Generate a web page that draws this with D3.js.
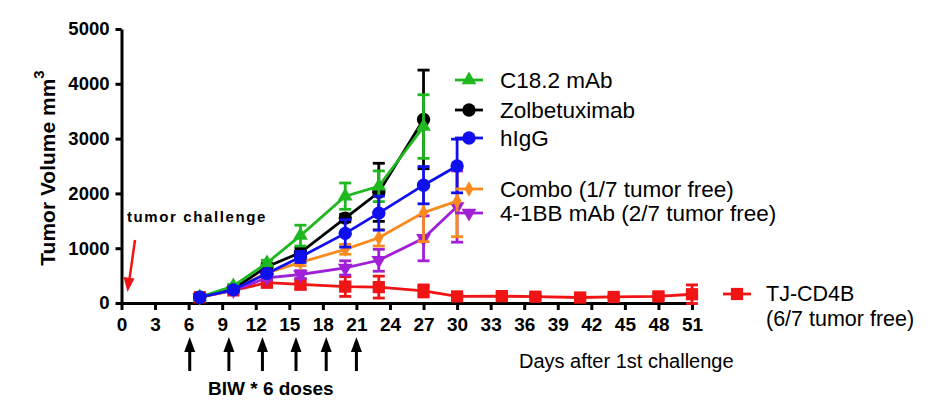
<!DOCTYPE html>
<html>
<head>
<meta charset="utf-8">
<script src="https://cdn.jsdelivr.net/npm/d3@7"></script>
<style>
  body { margin: 0; background: #fff; }
  svg { font-family: "Liberation Sans", Arial, sans-serif; }
</style>
</head>
<body>
<div id="chart"></div>
<script>
// days measured
var days = [7, 10, 13, 16, 20, 23, 27, 30];
var redDays = [7, 10, 13, 16, 20, 23, 27, 30, 34, 37, 41, 44, 48, 51];

var c18Mean = [110, 310, 730, 1230, 1950, 2130, 3220];
var c18Sem = [20, 30, 50, 190, 240, 280, 580];
var zolMean = [105, 260, 660, 920, 1550, 2020, 3350];
var zolSem = [20, 30, 60, 90, 70, 530, 900];
var higgMean = [105, 240, 540, 840, 1270, 1640, 2150, 2500];
var higgSem = [20, 30, 50, 100, 250, 310, 340, 490];
var comboMean = [105, 240, 550, 740, 980, 1190, 1650, 1860];
var comboSem = [20, 30, 40, 60, 90, 150, 530, 650];
var bbMean = [105, 230, 460, 520, 640, 780, 1180, 1760];
var bbSem = [20, 30, 40, 70, 130, 200, 410, 650];
var tjMean = [105, 230, 370, 340, 300, 290, 220, 120, 125, 115, 100, 110, 120, 160];
var tjSem = [20, 30, 40, 90, 180, 200, 110, 40, 50, 40, 30, 30, 50, 170];

var xTicks = d3.range(0, 52, 3);
var yTicks = [0, 1000, 2000, 3000, 4000, 5000];
var doseDays = [6.1, 9.6, 12.6, 15.6, 18.3, 21];

function build(dd, mean, sem) {
	return mean.map(function (m, i) { return { day: dd[i], mean: m, sem: sem[i] }; });
}

// draw order: red at the bottom, blue on top
var series = [
	{ name: "TJ-CD4B", color: "#f01414", shape: "square", pts: build(redDays, tjMean, tjSem) },
	{ name: "4-1BB mAb (2/7 tumor free)", color: "#a020d8", shape: "down", pts: build(days, bbMean, bbSem) },
	{ name: "Combo (1/7 tumor free)", color: "#f98b1e", shape: "diamond", pts: build(days, comboMean, comboSem) },
	{ name: "Zolbetuximab", color: "#000000", shape: "circle", pts: build(days, zolMean, zolSem) },
	{ name: "C18.2 mAb", color: "#1fb81f", shape: "triangle", pts: build(days, c18Mean, c18Sem) },
	{ name: "hIgG", color: "#1010ee", shape: "circle", pts: build(days, higgMean, higgSem) }
];

var width = 942, height = 412;
var svg = d3.select("#chart").append("svg")
	.attr("width", width)
	.attr("height", height);

var x = d3.scaleLinear().domain([0, 51]).range([121.5, 692]);
var y = d3.scaleLinear().domain([0, 5000]).range([303, 29]);

function symbolPath(shape) {
	if (shape == "square") return d3.symbol(d3.symbolSquare, 150)();
	if (shape == "triangle") return d3.symbol(d3.symbolTriangle, 95)();
	if (shape == "down") return d3.symbol(d3.symbolTriangle, 95)();
	if (shape == "diamond") return d3.symbol(d3.symbolDiamond, 70)();
	return d3.symbol(d3.symbolCircle, 140)();
}
function symbolTransform(shape, px, py) {
	return "translate(" + px + "," + py + ")" + (shape == "down" ? " rotate(180)" : "");
}

// y axis
var yAxis = d3.axisLeft(y).tickValues(yTicks).tickFormat(d3.format("d"))
	.tickSize(6).tickSizeOuter(0).tickPadding(6);
var gy = svg.append("g").attr("transform", "translate(121.5,0)").call(yAxis);
gy.select(".domain").attr("stroke-width", 3);
gy.selectAll(".tick line").attr("stroke-width", 3);
gy.selectAll("text").attr("font-size", 18.5).attr("font-weight", "bold").attr("fill", "#000")
	.style("font-family", "'Liberation Sans', Arial, sans-serif");

// x axis
var xAxis = d3.axisBottom(x).tickValues(xTicks).tickSize(7).tickSizeOuter(0).tickPadding(8);
var gx = svg.append("g").attr("transform", "translate(0,303)").call(xAxis);
gx.select(".domain").attr("stroke-width", 3);
gx.selectAll(".tick line").attr("stroke-width", 3);
gx.selectAll("text").attr("font-size", 19).attr("font-weight", "bold").attr("fill", "#000")
	.style("font-family", "'Liberation Sans', Arial, sans-serif");

// y label
var yl = svg.append("text")
	.attr("transform", "translate(55,168) rotate(-90)")
	.attr("text-anchor", "middle")
	.attr("font-size", 21).attr("font-weight", "bold");
yl.append("tspan").text("Tumor Volume mm");
yl.append("tspan").attr("font-size", 15).attr("dy", -11).text("3");

// series
var g = svg.append("g");
series.forEach(function (s) {
	var sg = g.append("g");
	var line = d3.line().x(function (d) { return x(d.day); }).y(function (d) { return y(d.mean); });
	sg.append("path").datum(s.pts)
		.attr("d", line).attr("fill", "none")
		.attr("stroke", s.color).attr("stroke-width", 2.8);

	var eb = sg.selectAll(".eb").data(s.pts).enter().append("g");
	eb.append("line")
		.attr("x1", function (d) { return x(d.day); })
		.attr("x2", function (d) { return x(d.day); })
		.attr("y1", function (d) { return y(d.mean - d.sem); })
		.attr("y2", function (d) { return y(d.mean + d.sem); })
		.attr("stroke", s.color).attr("stroke-width", 2.8);
	[-1, 1].forEach(function (k) {
		eb.append("line")
			.attr("x1", function (d) { return x(d.day) - 6; })
			.attr("x2", function (d) { return x(d.day) + 6; })
			.attr("y1", function (d) { return y(d.mean + k * d.sem); })
			.attr("y2", function (d) { return y(d.mean + k * d.sem); })
			.attr("stroke", s.color).attr("stroke-width", 2.8);
	});

	sg.selectAll(".pt").data(s.pts).enter().append("path")
		.attr("d", symbolPath(s.shape))
		.attr("transform", function (d) { return symbolTransform(s.shape, x(d.day), y(d.mean)); })
		.attr("fill", s.color);
});

// legend
var legendRows = [
	{ name: "C18.2 mAb", color: "#1fb81f", shape: "triangle", y: 80 },
	{ name: "Zolbetuximab", color: "#000000", shape: "circle", y: 110 },
	{ name: "hIgG", color: "#1010ee", shape: "circle", y: 138 },
	{ name: "Combo (1/7 tumor free)", color: "#f98b1e", shape: "diamond", y: 189 },
	{ name: "4-1BB mAb (2/7 tumor free)", color: "#a020d8", shape: "down", y: 213 }
];
var lg = svg.append("g");
legendRows.forEach(function (r) {
	lg.append("line").attr("x1", 455).attr("x2", 483).attr("y1", r.y).attr("y2", r.y)
		.attr("stroke", r.color).attr("stroke-width", 2.8);
	lg.append("path").attr("d", symbolPath(r.shape))
		.attr("transform", symbolTransform(r.shape, 469, r.y)).attr("fill", r.color);
	lg.append("text").attr("x", 500).attr("y", r.y + 7.5)
		.attr("font-size", 22.5).text(r.name);
});
// TJ-CD4B legend on the right
lg.append("line").attr("x1", 723).attr("x2", 751).attr("y1", 294).attr("y2", 294)
	.attr("stroke", "#f01414").attr("stroke-width", 2.8);
lg.append("path").attr("d", symbolPath("square"))
	.attr("transform", symbolTransform("square", 737, 294)).attr("fill", "#f01414");
lg.append("text").attr("x", 766).attr("y", 301).attr("font-size", 21.5).text("TJ-CD4B");
lg.append("text").attr("x", 766).attr("y", 326).attr("font-size", 21.5).text("(6/7 tumor free)");

// annotations
svg.append("text").attr("x", 127).attr("y", 222)
	.attr("font-size", 15).attr("font-weight", "bold").attr("letter-spacing", 1.6)
	.text("tumor challenge");

// red arrow for challenge
svg.append("line").attr("x1", 135).attr("y1", 240).attr("x2", 129.5).attr("y2", 279)
	.attr("stroke", "#f01414").attr("stroke-width", 2.5);
svg.append("path").attr("d", "M127.5,292 L123.5,277 L134.5,278.5 Z").attr("fill", "#f01414");

// dose arrows
var da = svg.append("g");
doseDays.forEach(function (d) {
	var px = x(d);
	da.append("line").attr("x1", px).attr("x2", px).attr("y1", 350).attr("y2", 371)
		.attr("stroke", "#000").attr("stroke-width", 3);
	da.append("path").attr("d", "M" + px + ",337 L" + (px - 5.5) + ",352 L" + (px + 5.5) + ",352 Z")
		.attr("fill", "#000");
});
svg.append("text").attr("x", 208).attr("y", 395)
	.attr("font-size", 19).attr("font-weight", "bold").text("BIW * 6 doses");

svg.append("text").attr("x", 519).attr("y", 368)
	.attr("font-size", 20).text("Days after 1st challenge");
</script>
</body>
</html>
